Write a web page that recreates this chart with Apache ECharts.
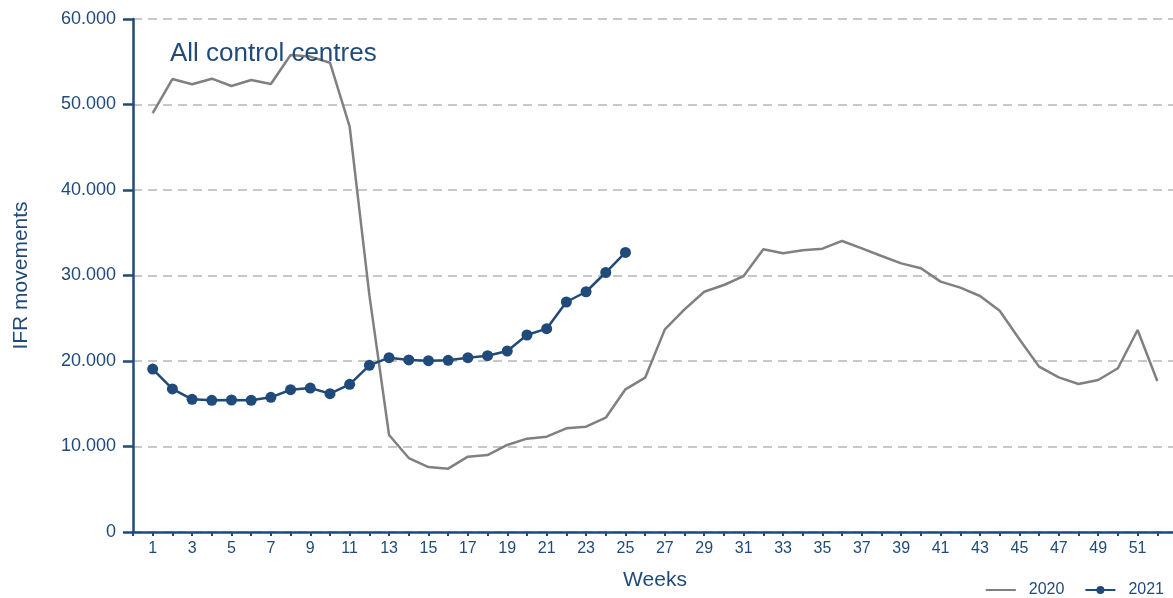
<!DOCTYPE html>
<html><head><meta charset="utf-8">
<script src="https://cdn.jsdelivr.net/npm/echarts@6/dist/echarts.min.js"></script>
<style>html,body{margin:0;padding:0;background:#fff}#c{width:1173px;height:598px}</style>
</head><body><div id="c"></div>
<script>
const weeks = Array.from({length:52},(_,i)=>i+1);
const values2020 = [49000,52980,52360,53020,52160,52870,52400,55790,55600,54890,47400,27700,11340,8650,7600,7410,8810,9000,10180,10920,11150,12130,12320,13370,16690,18050,23700,26040,28100,28890,29940,33060,32600,32950,33140,34040,33180,32280,31420,30840,29280,28580,27600,25880,22540,19340,18090,17310,17780,19150,23630,17660];
const values2021 = [19060,16730,15520,15400,15440,15400,15750,16640,16840,16180,17270,19490,20390,20120,20040,20080,20390,20620,21170,23040,23780,26900,28100,30350,32700];
const yTicks = [0,10000,20000,30000,40000,50000,60000];

const blue = '#1F4A7A';
const grey = '#808080';
const fmt = v => v === 0 ? '0' : String(v).replace(/\B(?=(\d{3})+(?!\d))/g, '.');

const chart = echarts.init(document.getElementById('c'));
chart.setOption({
  animation:false,
  textStyle:{fontFamily:'Liberation Sans, Arial, sans-serif'},
  title:{text:'All control centres',left:165,top:36,textStyle:{fontSize:26,fontWeight:'normal',color:blue,fontFamily:'Liberation Sans, Arial, sans-serif'}},
  grid:{left:133,width:1044,top:19,bottom:66,containLabel:false,outerBoundsMode:'none'},
  legend:{right:9,bottom:0,padding:0,itemWidth:30,itemHeight:10,itemGap:20,
    textStyle:{fontSize:16,color:blue,padding:[0,0,0,8]},
    data:[{name:'2020',itemStyle:{opacity:0,color:'rgba(0,0,0,0)',borderWidth:0}},'2021']},
  xAxis:{type:'value',min:0,max:53,interval:1,
    name:'Weeks',nameLocation:'middle',nameGap:38,
    nameTextStyle:{fontSize:21,color:blue},
    axisLine:{lineStyle:{color:blue,width:2.5}},
    axisTick:{length:4,lineStyle:{color:blue,width:2}},
    axisLabel:{fontSize:16,color:blue,margin:9,
      formatter:v=> (v>=1 && v<=52 && v%2===1) ? String(v) : ''},
    splitLine:{show:false}},
  yAxis:{type:'value',min:0,max:60000,interval:10000,
    name:'IFR movements',nameLocation:'middle',nameGap:101,
    nameTextStyle:{fontSize:21,color:blue},
    axisLine:{show:true,lineStyle:{color:blue,width:2.5}},
    axisTick:{show:true,length:10,lineStyle:{color:blue,width:2.5}},
    axisLabel:{fontSize:18,color:blue,margin:17,formatter:v=>yTicks.includes(v)?fmt(v):''},
    splitLine:{show:true,lineStyle:{color:'#c8c8c8',type:[9,6],width:2}}},
  series:[
    {name:'2020',type:'line',data:weeks.map((w,i)=>[w,values2020[i]]),
      showSymbol:false,symbol:'none',lineStyle:{color:grey,width:2.5},itemStyle:{color:grey},z:2},
    {name:'2021',type:'line',data:values2021.map((v,i)=>[weeks[i],v]),
      symbol:'circle',symbolSize:11,lineStyle:{color:blue,width:2.5},itemStyle:{color:blue},z:3}
  ]
});
</script></body></html>
